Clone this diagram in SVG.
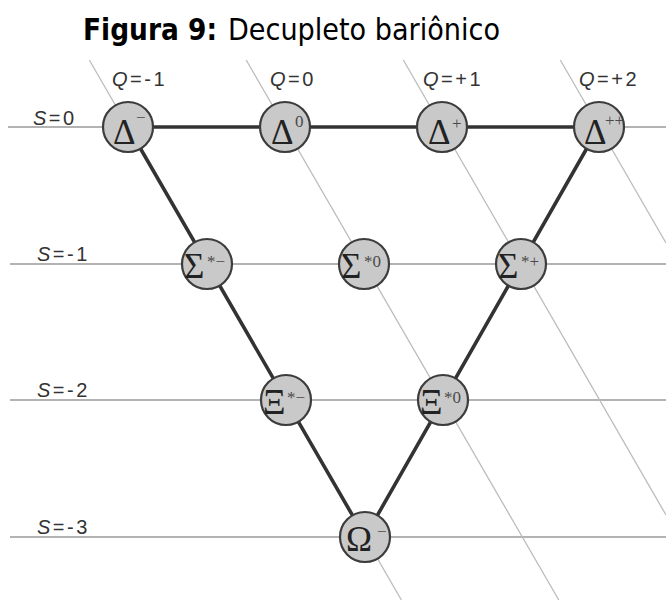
<svg xmlns="http://www.w3.org/2000/svg" width="666" height="600" viewBox="0 0 666 600">
  <style>
    .title { font-family: "DejaVu Sans", "Liberation Sans", sans-serif; font-size: 30px; fill: #000; }
    .lbl { font-family: "Liberation Sans", Arial, sans-serif; font-size: 20px; fill: #333; letter-spacing: 2.5px; }
    .lbl .it { font-style: italic; }
    .sline { stroke: #b3b3b3; stroke-width: 2; fill: none; }
    .qline { stroke: #bcbcbc; stroke-width: 1.3; fill: none; }
    .edge { stroke: #333; stroke-width: 3.6; fill: none; stroke-linecap: round; }
    .node circle { fill: #c9c9c9; stroke: #3c3c3c; stroke-width: 2.2; }
    .sym { font-family: "Liberation Serif", "Times New Roman", serif; font-size: 35px; fill: #222; }
    .sup { font-family: "Liberation Serif", "Times New Roman", serif; font-size: 17px; fill: #4a4a4a; }
  </style>

  <!-- heading -->
  <text class="title" y="40">
    <tspan x="83" font-weight="bold" textLength="134" lengthAdjust="spacingAndGlyphs">Figura 9:</tspan>
    <tspan x="228" textLength="272" lengthAdjust="spacingAndGlyphs">Decupleto bariônico</tspan>
  </text>

  <!-- strangeness levels -->
  <g id="strangeness-lines">
    <line class="sline" x1="8" y1="127" x2="666" y2="127"/>
    <line class="sline" x1="10" y1="264" x2="666" y2="264"/>
    <line class="sline" x1="10" y1="400" x2="666" y2="400"/>
    <line class="sline" x1="10" y1="537" x2="666" y2="537"/>
  </g>
  <g id="strangeness-labels">
    <text class="lbl" x="33" y="125"><tspan class="it">S</tspan>=0</text>
    <text class="lbl" x="37" y="261"><tspan class="it">S</tspan>=-1</text>
    <text class="lbl" x="37" y="397"><tspan class="it">S</tspan>=-2</text>
    <text class="lbl" x="37" y="534"><tspan class="it">S</tspan>=-3</text>
  </g>

  <!-- charge lines -->
  <g id="charge-lines">
    <line class="qline" x1="89.3" y1="60" x2="401.4" y2="600"/>
    <line class="qline" x1="246.2" y1="60" x2="558.8" y2="600"/>
    <line class="qline" x1="403.3" y1="60" x2="666" y2="515"/>
    <line class="qline" x1="560.3" y1="60" x2="666" y2="243"/>
  </g>
  <g id="charge-labels">
    <text class="lbl" x="112" y="86"><tspan class="it">Q</tspan>=-1</text>
    <text class="lbl" x="270" y="86"><tspan class="it">Q</tspan>=0</text>
    <text class="lbl" x="423" y="86"><tspan class="it">Q</tspan>=+1</text>
    <text class="lbl" x="579" y="86"><tspan class="it">Q</tspan>=+2</text>
  </g>

  <!-- decuplet edges -->
  <g id="connectors">
    <line class="edge" x1="128" y1="127" x2="599" y2="127"/>
    <line class="edge" x1="128" y1="127" x2="365" y2="537"/>
    <line class="edge" x1="599" y1="127" x2="365" y2="537"/>
  </g>

  <!-- particles -->
  <g id="delta-minus" class="node">
    <circle cx="128" cy="127" r="25"/>
    <text class="sym" x="113" y="144">Δ</text>
    <text class="sup" x="136" y="123">−</text>
  </g>
  <g id="delta-zero" class="node">
    <circle cx="285" cy="127" r="25"/>
    <text class="sym" x="271" y="144">Δ</text>
    <text class="sup" x="295" y="127">0</text>
  </g>
  <g id="delta-plus" class="node">
    <circle cx="442" cy="127" r="25"/>
    <text class="sym" x="428" y="144">Δ</text>
    <text class="sup" x="452" y="129">+</text>
  </g>
  <g id="delta-plusplus" class="node">
    <circle cx="599" cy="127" r="25"/>
    <text class="sym" x="584" y="144">Δ</text>
    <text class="sup" x="605" y="126" font-size="15">++</text>
  </g>

  <g id="sigma-star-minus" class="node">
    <circle cx="207" cy="264" r="25"/>
    <text class="sym" x="184" y="278">Σ</text>
    <text class="sup" x="207" y="267">*−</text>
  </g>
  <g id="sigma-star-zero" class="node">
    <circle cx="364" cy="264" r="25"/>
    <text class="sym" x="341" y="278">Σ</text>
    <text class="sup" x="364" y="267">*0</text>
  </g>
  <g id="sigma-star-plus" class="node">
    <circle cx="521" cy="264" r="25"/>
    <text class="sym" x="498" y="278">Σ</text>
    <text class="sup" x="521" y="267">*+</text>
  </g>

  <g id="xi-star-minus" class="node">
    <circle cx="286" cy="400" r="25"/>
    <text class="sym" x="263" y="414">Ξ</text>
    <text class="sup" x="287" y="403">*−</text>
  </g>
  <g id="xi-star-zero" class="node">
    <circle cx="443" cy="400" r="25"/>
    <text class="sym" x="420" y="414">Ξ</text>
    <text class="sup" x="444" y="403">*0</text>
  </g>

  <g id="omega-minus" class="node">
    <circle cx="365" cy="537" r="25"/>
    <text class="sym" x="346" y="551">Ω</text>
    <text class="sup" x="377" y="537" font-size="13">−</text>
  </g>
</svg>
